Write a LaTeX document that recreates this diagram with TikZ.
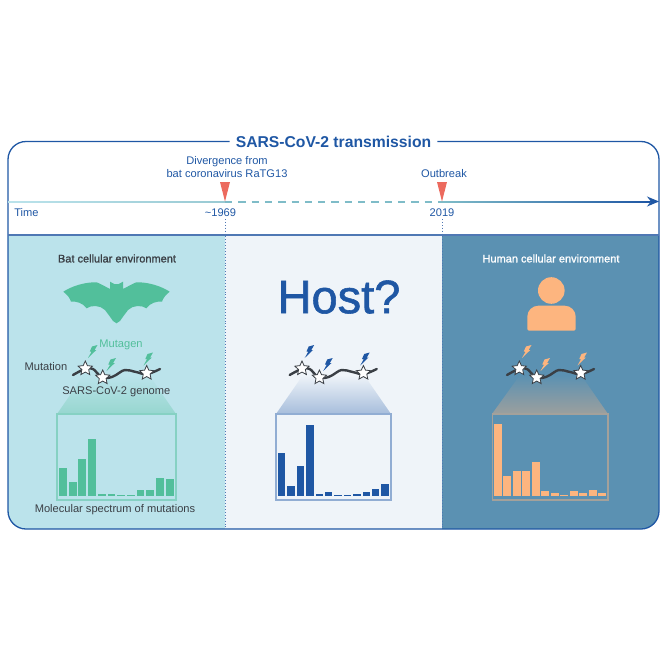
\documentclass[tikz,border=0pt]{standalone}
\usepackage{fontspec}
\setmainfont{Liberation Sans}
\newfontface\medfont{Liberation Sans}[FakeBold=1.2]
\usetikzlibrary{arrows.meta,shapes.geometric}

\definecolor{navy}{HTML}{1F57A4}
\definecolor{rule}{HTML}{4F78B4}
\definecolor{batbg}{HTML}{BBE3EB}
\definecolor{hostbg}{HTML}{EFF4F9}
\definecolor{humanbg}{HTML}{5B91B2}
\definecolor{mint}{HTML}{52BF9B}
\definecolor{peach}{HTML}{FDB57F}
\definecolor{coral}{HTML}{EC6A5E}
\definecolor{dashteal}{HTML}{7FBCC8}
\definecolor{ink}{HTML}{3A3F45}

\tikzset{
    small/.style={font=\fontsize{11.1}{13}\selectfont, text=ink, inner sep=0pt, align=center},
    bluetext/.style={small, text=navy},
    head/.style={font=\fontsize{11}{12}\selectfont\medfont, inner sep=0pt},
    marker/.style={fill=coral},
    mut/.style={star, star points=5, star point ratio=2.1, draw=ink, fill=white, line width=0.8pt, minimum size=15pt, inner sep=0pt},
    genome/.style={draw=ink, line width=2.4pt, line cap=round},
    zoombox/.style={line width=1.2pt},
    dots/.style={draw=rule, line width=1pt, dash pattern=on 1pt off 1.9pt},
    bolt/.pic={\fill[pic actions] (0,0) -- (8.3,-8) -- (6.5,-7.8) -- (9.5,-13) -- (4,-11.5) -- (1.8,-6.5) -- (3.5,-6.2) -- cycle;}
}

\begin{document}
\begin{tikzpicture}[x=1pt, y=-1pt]
    \useasboundingbox (0,0) rectangle (664,664);

    % panels
    \fill[batbg] (8,235) -- (225,235) -- (225,529) [rounded corners=18pt] -- (8,529) [sharp corners] -- cycle;
    \fill[hostbg] (225,235) rectangle (442,529);
    \fill[humanbg] (442,235) -- (659,235) [rounded corners=18pt] -- (659,529) [sharp corners] -- (442,529) -- cycle;

    % frame and title
    \node[font=\fontsize{15.7}{17}\selectfont\bfseries, text=navy, inner sep=6pt] (title) at (333.5,141.5) {SARS-CoV-2 transmission};
    \coordinate (botleft) at (8,529);
    \coordinate (botright) at (659,529);
    \draw[navy, line width=1.3pt, rounded corners=18pt] (title.west) -- (8,141.5) -- (botleft) -- (botright) -- (659,141.5) -- (title.east);
    \coordinate (ruleleft) at (8,235);
    \coordinate (ruleright) at (659,235);
    \draw[rule, line width=1.5pt] (ruleleft) -- (ruleright);

    % time line
    \coordinate (start) at (8,201.5);
    \coordinate (div) at (225,201.5);
    \coordinate (out) at (442,201.5);
    \coordinate (tip) at (659,201.5);
    \fill[left color=batbg, right color=dashteal!80!white] (8,201) rectangle (225,202);
    \draw[dashteal, line width=2pt, dash pattern=on 7.3pt off 6pt] (div) -- (out);
    \fill[left color=dashteal, right color=navy] (442,201) rectangle (650,202);
    \draw[navy, line width=1.2pt, -{Stealth[length=12pt,width=10pt]}] (646,201.5) -- (tip);

    \fill[marker] (220,182) -- (230,182) -- (div) -- cycle;
    \fill[marker] (437,182) -- (447,182) -- (out) -- cycle;

    \node[bluetext] (divtext) at (227,167.5) {Divergence from\\bat coronavirus RaTG13};
    \node[bluetext] (outtext) at (444,174) {Outbreak};
    \node[bluetext] (time) at (26.5,212.7) {Time};
    \node[bluetext] (y1969) at (220.5,212.7) {\textasciitilde1969};
    \node[bluetext] (y2019) at (442,212.7) {2019};

    \coordinate (divend) at (225,529);
    \coordinate (outend) at (442,529);
    \draw[dots] (225,219) -- (divend);
    \draw[dots] (442,219) -- (outend);

    % headings
    \node[head, text=ink] (batlabel) at (117,258.5) {Bat cellular environment};
    \node[head, text=white] (humanlabel) at (551,258.5) {Human cellular environment};
    \node[font=\fontsize{47}{50}\selectfont\medfont, text=navy, inner sep=0pt] (host) at (339,297) {Host?};

    % bat
    \fill[mint] (114.3,284) -- (110,281.7) -- (110,289)
        .. controls (106,287) and (101,284) .. (96.7,282.3)
        .. controls (85,282) and (72,286) .. (63.3,291.7)
        .. controls (67,294.5) and (70,298) .. (71,301.7)
        .. controls (76,301) and (83,303) .. (86.7,308.3)
        .. controls (91,305) and (100,305) .. (105,310)
        .. controls (107,313) and (109,315) .. (110,316.7)
        -- (113,321) -- (116.5,323.3) -- (120,321) -- (123,316.7)
        .. controls (124,315) and (126,313) .. (128,310)
        .. controls (133,305) and (142,305) .. (146.3,308.3)
        .. controls (150,303) and (157,301) .. (162,301.7)
        .. controls (163,298) and (166,294.5) .. (169.7,291.7)
        .. controls (161,286) and (148,282) .. (136.3,282.3)
        .. controls (132,284) and (127,287) .. (123,289)
        -- (123,281.7) -- (118.7,284) -- cycle;

    % person
    \fill[peach] (551.3,290.5) circle (13.3);
    \fill[peach] (551.5,330.7) [rounded corners=1.5pt] -- (527.3,330.7) [rounded corners=11pt] -- (527.3,305.7) -- (575.7,305.7) [rounded corners=1.5pt] -- (575.7,330.7) [sharp corners] -- cycle;

    % cones towards the boxes
    \shade[top color=batbg, bottom color=mint!35!batbg] (84,375) -- (149,375) -- (176,414) -- (57,414) -- cycle;
    \shade[top color=hostbg, bottom color=navy!35!hostbg] (303,375) -- (364,375) -- (391,414) -- (276,414) -- cycle;
    \shade[top color=humanbg, bottom color=peach!40!humanbg] (520,375) -- (581,375) -- (608,414) -- (492,414) -- cycle;

    % genomes, stars and bolts
    \foreach \dx/\boltcolor in {0/mint, 216.7/navy, 434/peach} {
        \begin{scope}[xshift=\dx pt]
            \draw[genome] plot[smooth, tension=0.7] coordinates {(73,375) (85,369) (93,369) (100,376) (108,378) (116,375) (125,370) (136,372) (147,374) (160,369)};
            \node[mut] (s1) at (85.3,368.5) {};
            \node[mut] (s2) at (102.7,377.5) {};
            \node[mut] (s3) at (146.7,373) {};
            \pic[\boltcolor] at (88,358) {bolt};
            \pic[\boltcolor] at (106.5,371) {bolt};
            \pic[\boltcolor] at (143.5,365.5) {bolt};
        \end{scope}
    }

    % boxes
    \draw[zoombox, draw=mint!50!batbg] (57,414) rectangle (176,500);
    \draw[zoombox, draw=navy!45!hostbg] (276,414) rectangle (391,500);
    \draw[zoombox, draw=peach!45!humanbg] (492.3,414) rectangle (608,500);

    % bars
    \foreach \i/\h in {0/467.7, 1/482, 2/458.7, 3/439, 4/494, 5/494, 6/494.7, 7/494.7, 8/489.7, 9/490.3, 10/477.7, 11/479.3}
        \fill[mint] ({59+9.7*\i},\h) rectangle ({66.8+9.7*\i},496);
    \foreach \i/\h in {0/453.3, 1/486.3, 2/466, 3/425.3, 4/493.7, 5/492.3, 6/495, 7/495, 8/493.7, 9/492.3, 10/488.7, 11/484.3}
        \fill[navy] ({278+9.39*\i},\h) rectangle ({285.4+9.39*\i},496);
    \foreach \i/\h in {0/423.7, 1/475.7, 2/471.3, 3/471.3, 4/462, 5/491, 6/492.7, 7/495, 8/491, 9/493, 10/490.3, 11/493}
        \fill[peach] ({494+9.48*\i},\h) rectangle ({501.7+9.48*\i},496.3);

    % labels left panel
    \node[small, text=mint] (mutagen) at (121,345) {Mutagen};
    \node[small] (mutation) at (46,366.7) {Mutation};
    \node[small] (genomelabel) at (116.3,392) {SARS-CoV-2 genome};
    \node[small] (spectrum) at (115,509.5) {Molecular spectrum of mutations};
\end{tikzpicture}
\end{document}
